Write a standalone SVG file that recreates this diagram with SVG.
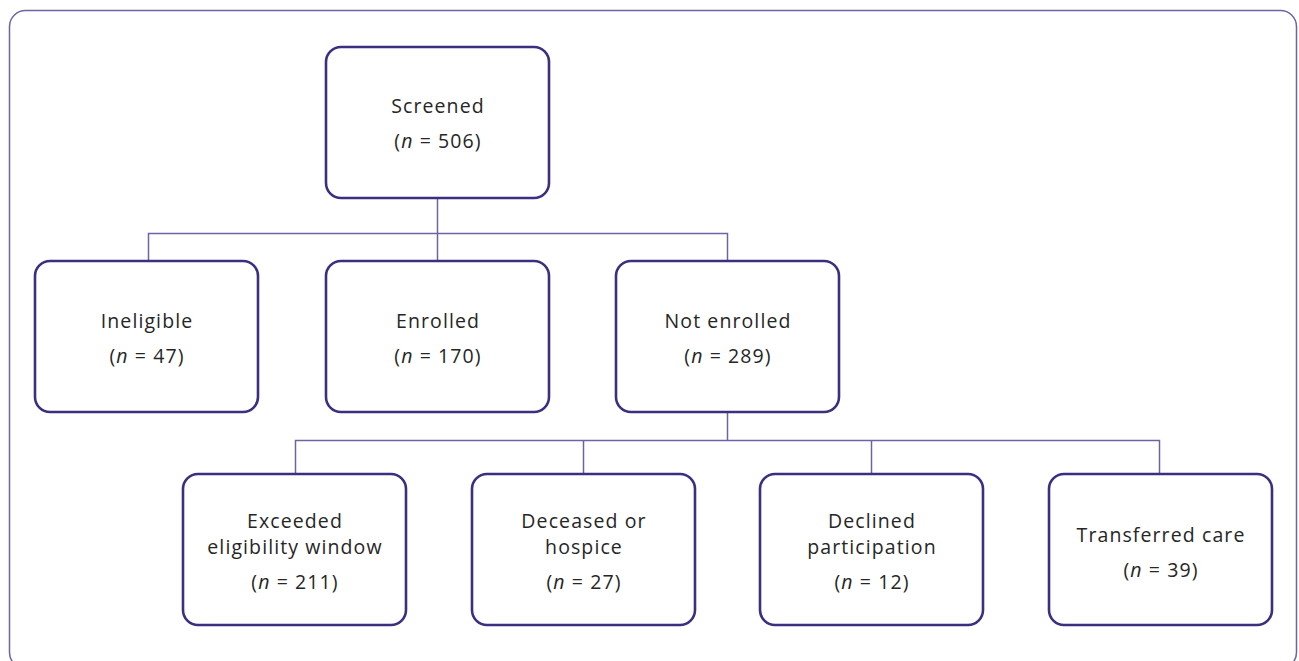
<svg xmlns="http://www.w3.org/2000/svg" width="1299" height="661" viewBox="0 0 1299 661">
<style>
.frame{fill:#fff;stroke:#6e63a4;stroke-width:1.5}
.box{fill:#fff;stroke:#3b2f80;stroke-width:2.6}
.conn{fill:none;stroke:#6f63a6;stroke-width:1.5}
text{font-family:"Open Sans","Noto Sans",sans-serif;font-weight:400;font-size:19.5px;letter-spacing:1.1px;fill:#262626;text-anchor:middle}
</style>
<rect width="1299" height="661" fill="#fff"/>
<rect class="frame" x="9.5" y="10.5" width="1287" height="658" rx="16"/>
<g id="connectors">
<path class="conn" d="M437.5 198V233.5M148.5 261V233.5H727.5V261M437.5 233.5V261"/>
<path class="conn" d="M727.5 411V440.5M295.5 474V440.5H1159.5V474M583.5 440.5V474M871.5 440.5V474"/>
</g>
<g id="screened"><rect class="box" x="326" y="47" width="223" height="151" rx="15"/>
<text x="438" y="113">Screened</text><text x="438" y="148">(<tspan font-style="italic">n</tspan> = 506)</text></g>
<g id="ineligible"><rect class="box" x="35" y="261" width="223" height="151" rx="15"/>
<text x="147" y="328">Ineligible</text><text x="147" y="363">(<tspan font-style="italic">n</tspan> = 47)</text></g>
<g id="enrolled"><rect class="box" x="326" y="261" width="223" height="151" rx="15"/>
<text x="438" y="328">Enrolled</text><text x="438" y="363">(<tspan font-style="italic">n</tspan> = 170)</text></g>
<g id="not-enrolled"><rect class="box" x="616" y="261" width="223" height="151" rx="15"/>
<text x="728" y="328">Not enrolled</text><text x="728" y="363">(<tspan font-style="italic">n</tspan> = 289)</text></g>
<g id="exceeded"><rect class="box" x="183" y="474" width="223" height="151" rx="15"/>
<text x="295" y="528">Exceeded</text><text x="295" y="554">eligibility window</text><text x="295" y="589">(<tspan font-style="italic">n</tspan> = 211)</text></g>
<g id="deceased"><rect class="box" x="472" y="474" width="223" height="151" rx="15"/>
<text x="584" y="528">Deceased or</text><text x="584" y="554">hospice</text><text x="584" y="589">(<tspan font-style="italic">n</tspan> = 27)</text></g>
<g id="declined"><rect class="box" x="760" y="474" width="223" height="151" rx="15"/>
<text x="872" y="528">Declined</text><text x="872" y="554">participation</text><text x="872" y="589">(<tspan font-style="italic">n</tspan> = 12)</text></g>
<g id="transferred"><rect class="box" x="1049" y="474" width="223" height="151" rx="15"/>
<text x="1161" y="542">Transferred care</text><text x="1161" y="577">(<tspan font-style="italic">n</tspan> = 39)</text></g>
</svg>
